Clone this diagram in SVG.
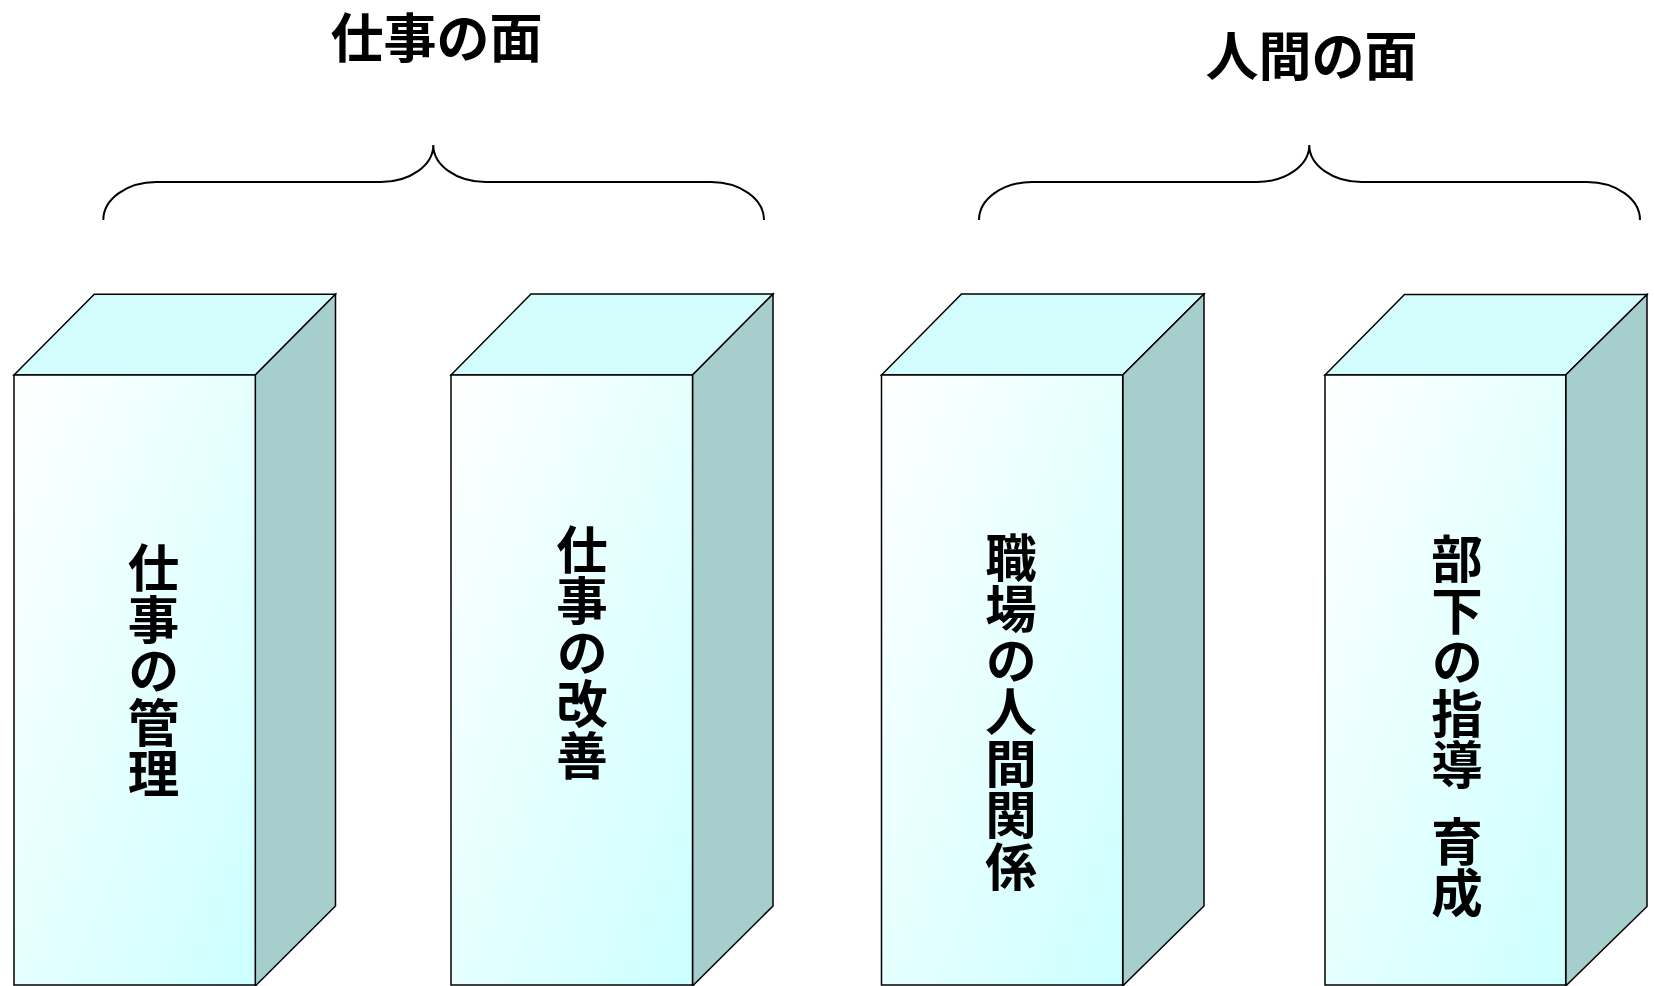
<svg xmlns="http://www.w3.org/2000/svg" width="1654" height="986" viewBox="0 0 1654 986">
<defs>
<linearGradient id="frontGrad" x1="0" y1="0" x2="1" y2="1">
<stop offset="0" stop-color="#FFFFFF"/>
<stop offset="1" stop-color="#CCFFFF"/>
</linearGradient>
<style>
.front{fill:url(#frontGrad);stroke:#000;stroke-width:1.5;stroke-linejoin:miter}
.top{fill:#D3FDFD;stroke:#000;stroke-width:1.5;stroke-linejoin:miter}
.side{fill:#A6CECD;stroke:#000;stroke-width:1.5;stroke-linejoin:miter}
.brace{fill:none;stroke:#000;stroke-width:2}
.title{font-family:"Noto Sans CJK JP","Noto Sans CJK SC",sans-serif;font-weight:bold;font-size:53px;fill:#000;text-anchor:middle;dominant-baseline:central}
.col{font-family:"Noto Sans CJK JP","Noto Sans CJK SC",sans-serif;font-weight:bold;font-size:51.5px;fill:#000;text-anchor:middle;writing-mode:vertical-rl}
</style>
</defs>
<rect width="1654" height="986" fill="#FFFFFF"/>

<g id="title-work">
<text class="title" x="436.5" y="35">仕事の面</text>
</g>
<g id="title-human">
<text class="title" x="1311.5" y="53">人間の面</text>
</g>

<g id="connectors">
<path class="brace" d="M103.3,220 A53,38 0 0 1 156.3,182 L381,182 A52.3,37 0 0 0 433.3,145 A52.3,37 0 0 0 485.6,182 L711,182 A53,38 0 0 1 764,220"/>
<path class="brace" d="M979,220 A53,38 0 0 1 1032,182 L1257,182 A52.3,37 0 0 0 1309.3,145 A52.3,37 0 0 0 1361.6,182 L1587,182 A53,38 0 0 1 1640,220"/>
</g>

<g id="box-work-management">
<polygon class="top" points="14,375 94.3,294.3 335.5,294.3 255.3,375"/>
<polygon class="side" points="255.3,375 335.5,294.3 335.5,906 255.3,986"/>
<rect class="front" x="14" y="375" width="241.3" height="610"/>
<text class="col" x="153.5" y="670.5">仕事の管理</text>
</g>

<g id="box-work-improvement">
<polygon class="top" points="451,375 531,294 773,294 692.5,375"/>
<polygon class="side" points="692.5,375 773,294 773,906 692.5,986"/>
<rect class="front" x="451" y="375" width="241.5" height="610"/>
<text class="col" x="582" y="652">仕事の改善</text>
</g>

<g id="box-workplace-relations">
<polygon class="top" points="881.5,375 961.5,294 1204,294 1122.7,375"/>
<polygon class="side" points="1122.7,375 1204,294 1204,906 1122.7,986"/>
<rect class="front" x="881.5" y="375" width="241.2" height="610"/>
<text class="col" x="1011" y="711.5">職場の人間関係</text>
</g>

<g id="box-subordinate-guidance">
<polygon class="top" points="1325,375 1404.5,294.5 1647,294.5 1565.7,375"/>
<polygon class="side" points="1565.7,375 1647,294.5 1647,906.5 1565.7,986"/>
<rect class="front" x="1325" y="375" width="240.7" height="610"/>
<text class="col" x="1457" y="661.5">部下の指導</text>
<text class="col" x="1457" y="867">育成</text>
</g>
</svg>
